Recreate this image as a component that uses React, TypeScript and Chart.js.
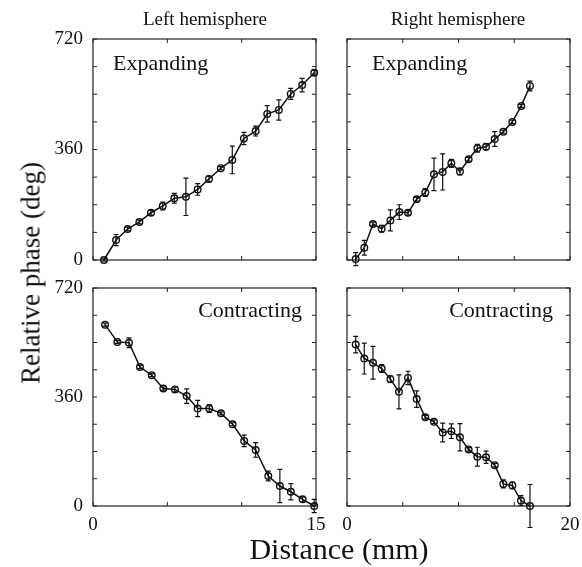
import React, { useEffect, useRef } from "react";
import { Chart, registerables } from "chart.js";

Chart.register(...registerables);

const FONT = '"Liberation Serif", "Times New Roman", serif';
const W = 582;
const H = 567;
// canvases run past the right edge so the last tick label never squeezes a panel
const CANVAS_W = 640;

// Left hemisphere – expanding wave
const leftExpDist = [0.74, 1.55, 2.33, 3.12, 3.9, 4.69, 5.47, 6.25, 7.04, 7.8, 8.6, 9.37, 10.15, 10.94, 11.72, 12.5, 13.3, 14.07, 14.88];
const leftExpPhase = [0, 65, 101, 124, 154, 176, 201, 206, 230, 264, 299, 326, 396, 420, 476, 489, 541, 570, 610];
const leftExpErr = [4, 18, 6, 6, 8, 13, 16, 61, 19, 9, 5, 45, 20, 16, 27, 33, 18, 22, 8];

// Right hemisphere – expanding wave
const rightExpDist = [0.78, 1.55, 2.33, 3.11, 3.89, 4.69, 5.47, 6.25, 7.02, 7.8, 8.58, 9.36, 10.13, 10.91, 11.69, 12.47, 13.25, 14.02, 14.83, 15.63, 16.41];
const rightExpPhase = [3, 40, 117, 102, 129, 156, 154, 198, 220, 279, 287, 315, 288, 328, 364, 369, 394, 418, 450, 502, 567];
const rightExpErr = [21, 24, 6, 11, 34, 24, 8, 6, 13, 53, 59, 13, 11, 6, 13, 10, 24, 5, 6, 5, 16];

// Left hemisphere – contracting wave
const leftConDist = [0.81, 1.64, 2.42, 3.16, 3.95, 4.73, 5.51, 6.3, 7.04, 7.82, 8.61, 9.39, 10.17, 10.94, 11.79, 12.57, 13.31, 14.1, 14.88];
const leftConPhase = [599, 542, 539, 459, 432, 388, 385, 363, 322, 322, 306, 270, 215, 185, 99, 66, 47, 22, 0];
const leftConErr = [5, 5, 16, 5, 5, 5, 8, 24, 27, 13, 5, 5, 19, 24, 16, 55, 27, 8, 22];

// Right hemisphere – contracting wave
const rightConDist = [0.78, 1.55, 2.33, 3.11, 3.89, 4.66, 5.47, 6.25, 7.02, 7.8, 8.58, 9.36, 10.13, 10.91, 11.69, 12.47, 13.25, 14.02, 14.83, 15.6, 16.41];
const rightConPhase = [533, 487, 473, 454, 419, 377, 423, 353, 293, 278, 243, 247, 227, 187, 163, 161, 135, 73, 68, 18, 0];
const rightConErr = [27, 51, 54, 13, 11, 56, 22, 27, 6, 6, 31, 24, 45, 6, 31, 20, 6, 13, 11, 16, 71];

// Axis ranges and labelled ticks
const phaseMax = 720;
const phaseStep = 90;
const phaseLabels = [0, 360, 720];
const leftDistMax = 15;
const rightDistMax = 20;
const distStep = 5;

type Panel = {
  xs: number[];
  ys: number[];
  errs: number[];
  xMax: number;
  area: { left: number; top: number; right: number; bottom: number };
  showX: boolean;
  showY: boolean;
  label: string;
  labelAlign: "left" | "right";
  labelDx: number;
  labelDy: number;
};

const panels: Panel[] = [
  {
    xs: leftExpDist, ys: leftExpPhase, errs: leftExpErr, xMax: leftDistMax,
    area: { left: 93, top: 39, right: 316, bottom: 260 },
    showX: false, showY: true, label: "Expanding", labelAlign: "left", labelDx: 20, labelDy: 31,
  },
  {
    xs: rightExpDist, ys: rightExpPhase, errs: rightExpErr, xMax: rightDistMax,
    area: { left: 347, top: 39, right: 570, bottom: 260 },
    showX: false, showY: false, label: "Expanding", labelAlign: "left", labelDx: 25, labelDy: 31,
  },
  {
    xs: leftConDist, ys: leftConPhase, errs: leftConErr, xMax: leftDistMax,
    area: { left: 93, top: 288, right: 316, bottom: 506 },
    showX: true, showY: true, label: "Contracting", labelAlign: "right", labelDx: -14, labelDy: 29,
  },
  {
    xs: rightConDist, ys: rightConPhase, errs: rightConErr, xMax: rightDistMax,
    area: { left: 347, top: 288, right: 570, bottom: 506 },
    showX: true, showY: false, label: "Contracting", labelAlign: "right", labelDx: -17, labelDy: 29,
  },
];

const INK = "#111111";
const Y_AXIS_W = 50;
const X_AXIS_H = 30;

function makeConfig(p: Panel): any {
  // axes box with inward tick marks on all four sides
  const framePlugin = {
    id: "frame",
    beforeDatasetsDraw(chart: any) {
      const { ctx, chartArea: a, scales } = chart;
      ctx.save();
      ctx.strokeStyle = "#222222";
      ctx.lineWidth = 1.2;
      ctx.strokeRect(a.left, a.top, a.right - a.left, a.bottom - a.top);
      const t = 4;
      ctx.lineWidth = 1;
      ctx.beginPath();
      scales.x.ticks.forEach((tk: any) => {
        const px = scales.x.getPixelForValue(tk.value);
        ctx.moveTo(px, a.bottom);
        ctx.lineTo(px, a.bottom - t);
        ctx.moveTo(px, a.top);
        ctx.lineTo(px, a.top + t);
      });
      scales.y.ticks.forEach((tk: any) => {
        const py = scales.y.getPixelForValue(tk.value);
        ctx.moveTo(a.left, py);
        ctx.lineTo(a.left + t, py);
        ctx.moveTo(a.right, py);
        ctx.lineTo(a.right - t, py);
      });
      ctx.stroke();
      ctx.restore();
    },
  };

  // vertical error bars with short caps
  const errorPlugin = {
    id: "errorBars",
    afterDatasetsDraw(chart: any) {
      const { ctx, scales } = chart;
      ctx.save();
      ctx.strokeStyle = INK;
      ctx.lineWidth = 1.2;
      ctx.beginPath();
      p.xs.forEach((x, i) => {
        const e = p.errs[i];
        const px = scales.x.getPixelForValue(x);
        const y1 = scales.y.getPixelForValue(p.ys[i] + e);
        const y2 = scales.y.getPixelForValue(p.ys[i] - e);
        const cap = 2.5;
        ctx.moveTo(px, y1);
        ctx.lineTo(px, y2);
        ctx.moveTo(px - cap, y1);
        ctx.lineTo(px + cap, y1);
        ctx.moveTo(px - cap, y2);
        ctx.lineTo(px + cap, y2);
      });
      ctx.stroke();
      ctx.restore();
    },
  };

  // condition name inside the axes
  const labelPlugin = {
    id: "panelLabel",
    afterDraw(chart: any) {
      const { ctx, chartArea: a } = chart;
      ctx.save();
      ctx.fillStyle = INK;
      ctx.font = `22px ${FONT}`;
      ctx.textBaseline = "alphabetic";
      ctx.textAlign = p.labelAlign;
      const x = p.labelAlign === "left" ? a.left + p.labelDx : a.right + p.labelDx;
      ctx.fillText(p.label, x, a.top + p.labelDy);
      ctx.restore();
    },
  };

  return {
    type: "line",
    data: {
      datasets: [
        {
          data: p.xs.map((x, i) => ({ x, y: p.ys[i] })),
          borderColor: INK,
          borderWidth: 1.5,
          pointRadius: 3.3,
          pointBorderWidth: 1.4,
          pointBorderColor: INK,
          pointBackgroundColor: "rgba(0,0,0,0)",
          tension: 0,
          clip: false,
        },
      ],
    },
    options: {
      responsive: false,
      animation: false,
      events: [],
      layout: {
        padding: {
          left: p.area.left - Y_AXIS_W,
          top: p.area.top,
          right: CANVAS_W - p.area.right,
          bottom: H - p.area.bottom - X_AXIS_H,
        },
      },
      plugins: {
        legend: { display: false },
        tooltip: { enabled: false },
        title: { display: false },
      },
      scales: {
        x: {
          type: "linear",
          min: 0,
          max: p.xMax,
          afterFit: (s: any) => {
            s.height = X_AXIS_H;
          },
          grid: { display: false, drawTicks: false },
          border: { display: false },
          ticks: {
            stepSize: distStep,
            autoSkip: false,
            maxRotation: 0,
            padding: 8,
            color: INK,
            font: { family: FONT, size: 19 },
            callback: (v: number) => (p.showX && (v === 0 || v === p.xMax) ? String(v) : ""),
          },
        },
        y: {
          type: "linear",
          min: 0,
          max: phaseMax,
          afterFit: (s: any) => {
            s.width = Y_AXIS_W;
          },
          grid: { display: false, drawTicks: false },
          border: { display: false },
          ticks: {
            stepSize: phaseStep,
            autoSkip: false,
            padding: 10,
            color: INK,
            font: { family: FONT, size: 19 },
            callback: (v: number) => (p.showY && phaseLabels.includes(v) ? String(v) : ""),
          },
        },
      },
    },
    plugins: [framePlugin, errorPlugin, labelPlugin],
  };
}

function PanelCanvas({ panel }: { panel: Panel }) {
  const ref = useRef<HTMLCanvasElement | null>(null);
  useEffect(() => {
    if (!ref.current) return;
    const chart = new Chart(ref.current, makeConfig(panel));
    return () => chart.destroy();
  }, [panel]);
  return (
    <canvas
      ref={ref}
      width={CANVAS_W}
      height={H}
      style={{ position: "absolute", left: 0, top: 0, width: CANVAS_W, height: H }}
    />
  );
}

function Text({ x, baseline, size, children, rotate }: { x: number; baseline: number; size: number; children: string; rotate?: boolean }) {
  if (rotate) {
    return (
      <div
        style={{
          position: "absolute",
          left: x,
          top: baseline,
          transform: "translate(-50%, -50%) rotate(-90deg)",
          fontFamily: FONT,
          fontSize: size,
          lineHeight: 1,
          whiteSpace: "nowrap",
          color: INK,
        }}
      >
        {children}
      </div>
    );
  }
  return (
    <div
      style={{
        position: "absolute",
        left: x,
        top: baseline - 0.8375 * size,
        transform: "translateX(-50%)",
        fontFamily: FONT,
        fontSize: size,
        lineHeight: 1,
        whiteSpace: "nowrap",
        color: INK,
      }}
    >
      {children}
    </div>
  );
}

export default function App() {
  return (
    <div
      style={{
        position: "absolute",
        left: 0,
        top: 0,
        width: W,
        height: H,
        background: "#ffffff",
        overflow: "hidden",
      }}
    >
      {panels.map((p, i) => (
        <PanelCanvas key={i} panel={p} />
      ))}
      <Text x={205} baseline={25} size={19}>Left hemisphere</Text>
      <Text x={458} baseline={25} size={19}>Right hemisphere</Text>
      <Text x={339} baseline={559} size={30}>Distance (mm)</Text>
      <Text x={31} baseline={273} size={27} rotate>Relative phase (deg)</Text>
    </div>
  );
}
